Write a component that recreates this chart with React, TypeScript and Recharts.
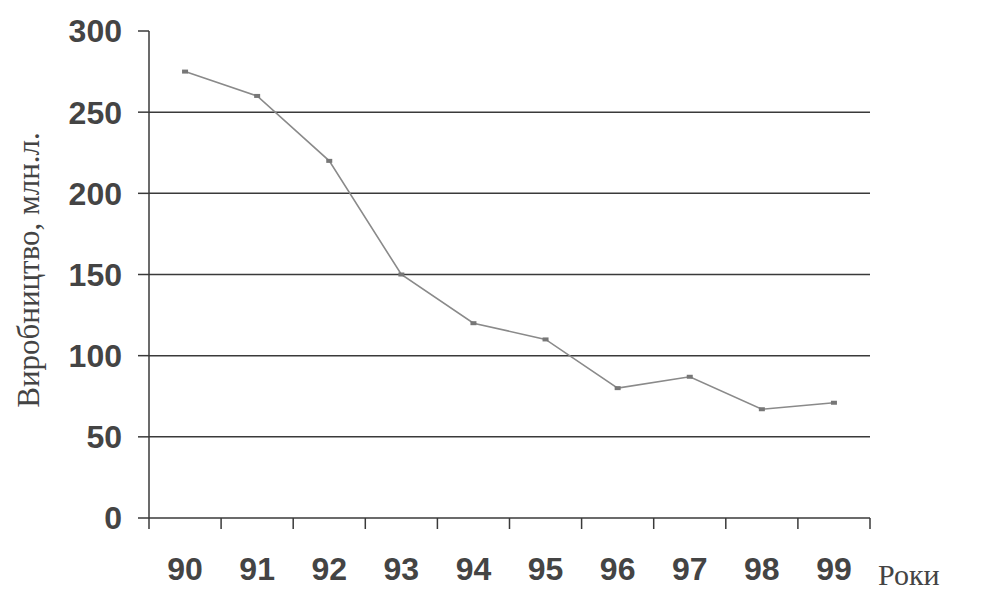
import React from 'react';
import { LineChart, Line, XAxis, YAxis, ReferenceLine } from 'recharts';

const years = ['90', '91', '92', '93', '94', '95', '96', '97', '98', '99'];
const production = [275, 260, 220, 150, 120, 110, 80, 87, 67, 71];
const yTicks = [0, 50, 100, 150, 200, 250, 300];
const gridValues = [50, 100, 150, 200, 250];
const yTitle = 'Виробництво, млн.л.';
const xTitle = 'Роки';

const data = years.map((year, i) => ({ year, value: production[i] }));

const W = 985;
const H = 611;
const MARGIN = { top: 31, right: 115, bottom: 0, left: 0 };
const X_AXIS_H = 93;
const Y_AXIS_W = 149;
const PLOT_W = W - MARGIN.right - Y_AXIS_W - MARGIN.left;
const HALF_BAND = PLOT_W / years.length / 2;

const AXIS_COLOR = '#3a3a3a';
const TEXT_COLOR = '#444';
const SANS = '"Liberation Sans", Arial, sans-serif';
const SERIF = '"Liberation Serif", "Times New Roman", serif';

const XTick = (props: any) => {
  const { x, y, payload, index } = props;
  const last = index === years.length - 1;
  return (
    <g>
      <line x1={x - HALF_BAND} x2={x - HALF_BAND} y1={y} y2={y + 11} stroke={AXIS_COLOR} strokeWidth={1.5} />
      {last && (
        <line x1={x + HALF_BAND} x2={x + HALF_BAND} y1={y} y2={y + 11} stroke={AXIS_COLOR} strokeWidth={1.5} />
      )}
      <text x={x} y={y + 62} textAnchor="middle" fontFamily={SANS} fontWeight="bold" fontSize={32} fill={TEXT_COLOR}>
        {payload.value}
      </text>
    </g>
  );
};

const YTitle = () => (
  <text
    x={39}
    y={270}
    transform="rotate(-90 39 270)"
    textAnchor="middle"
    fontFamily={SERIF}
    fontSize={31}
    fill={TEXT_COLOR}
  >
    {yTitle}
  </text>
);

const XTitle = () => (
  <text x={878} y={585} textAnchor="start" fontFamily={SERIF} fontSize={30} fill={TEXT_COLOR}>
    {xTitle}
  </text>
);

const Dot = (props: any) => {
  const { cx, cy, index } = props;
  if (cx == null || cy == null) return <g key={index} />;
  return <rect key={index} x={cx - 3} y={cy - 2} width={6} height={4} fill="#777" />;
};

export default function App() {
  return (
    <div style={{ position: 'absolute', left: 0, top: 0, background: '#fff' }}>
      <LineChart width={W} height={H} data={data} margin={MARGIN}>
        <XAxis
          dataKey="year"
          interval={0}
          padding={{ left: HALF_BAND, right: HALF_BAND }}
          tickLine={false}
          tickSize={0}
          tickMargin={0}
          axisLine={{ stroke: AXIS_COLOR, strokeWidth: 1.5 }}
          tick={<XTick />}
          height={X_AXIS_H}
          label={<XTitle />}
        />
        <YAxis
          domain={[0, 300]}
          ticks={yTicks}
          width={Y_AXIS_W}
          tickSize={11}
          tickMargin={16}
          tickLine={{ stroke: AXIS_COLOR, strokeWidth: 1.5 }}
          axisLine={{ stroke: AXIS_COLOR, strokeWidth: 1.5 }}
          tick={{ fontFamily: SANS, fontWeight: 'bold', fontSize: 32, fill: TEXT_COLOR }}
          label={<YTitle />}
        />
        {gridValues.map((v) => (
          <ReferenceLine key={v} y={v} stroke={AXIS_COLOR} strokeWidth={1.5} />
        ))}
        <Line
          dataKey="value"
          type="linear"
          stroke="#8a8a8a"
          strokeWidth={1.6}
          dot={<Dot />}
          activeDot={false}
          isAnimationActive={false}
        />
      </LineChart>
    </div>
  );
}
